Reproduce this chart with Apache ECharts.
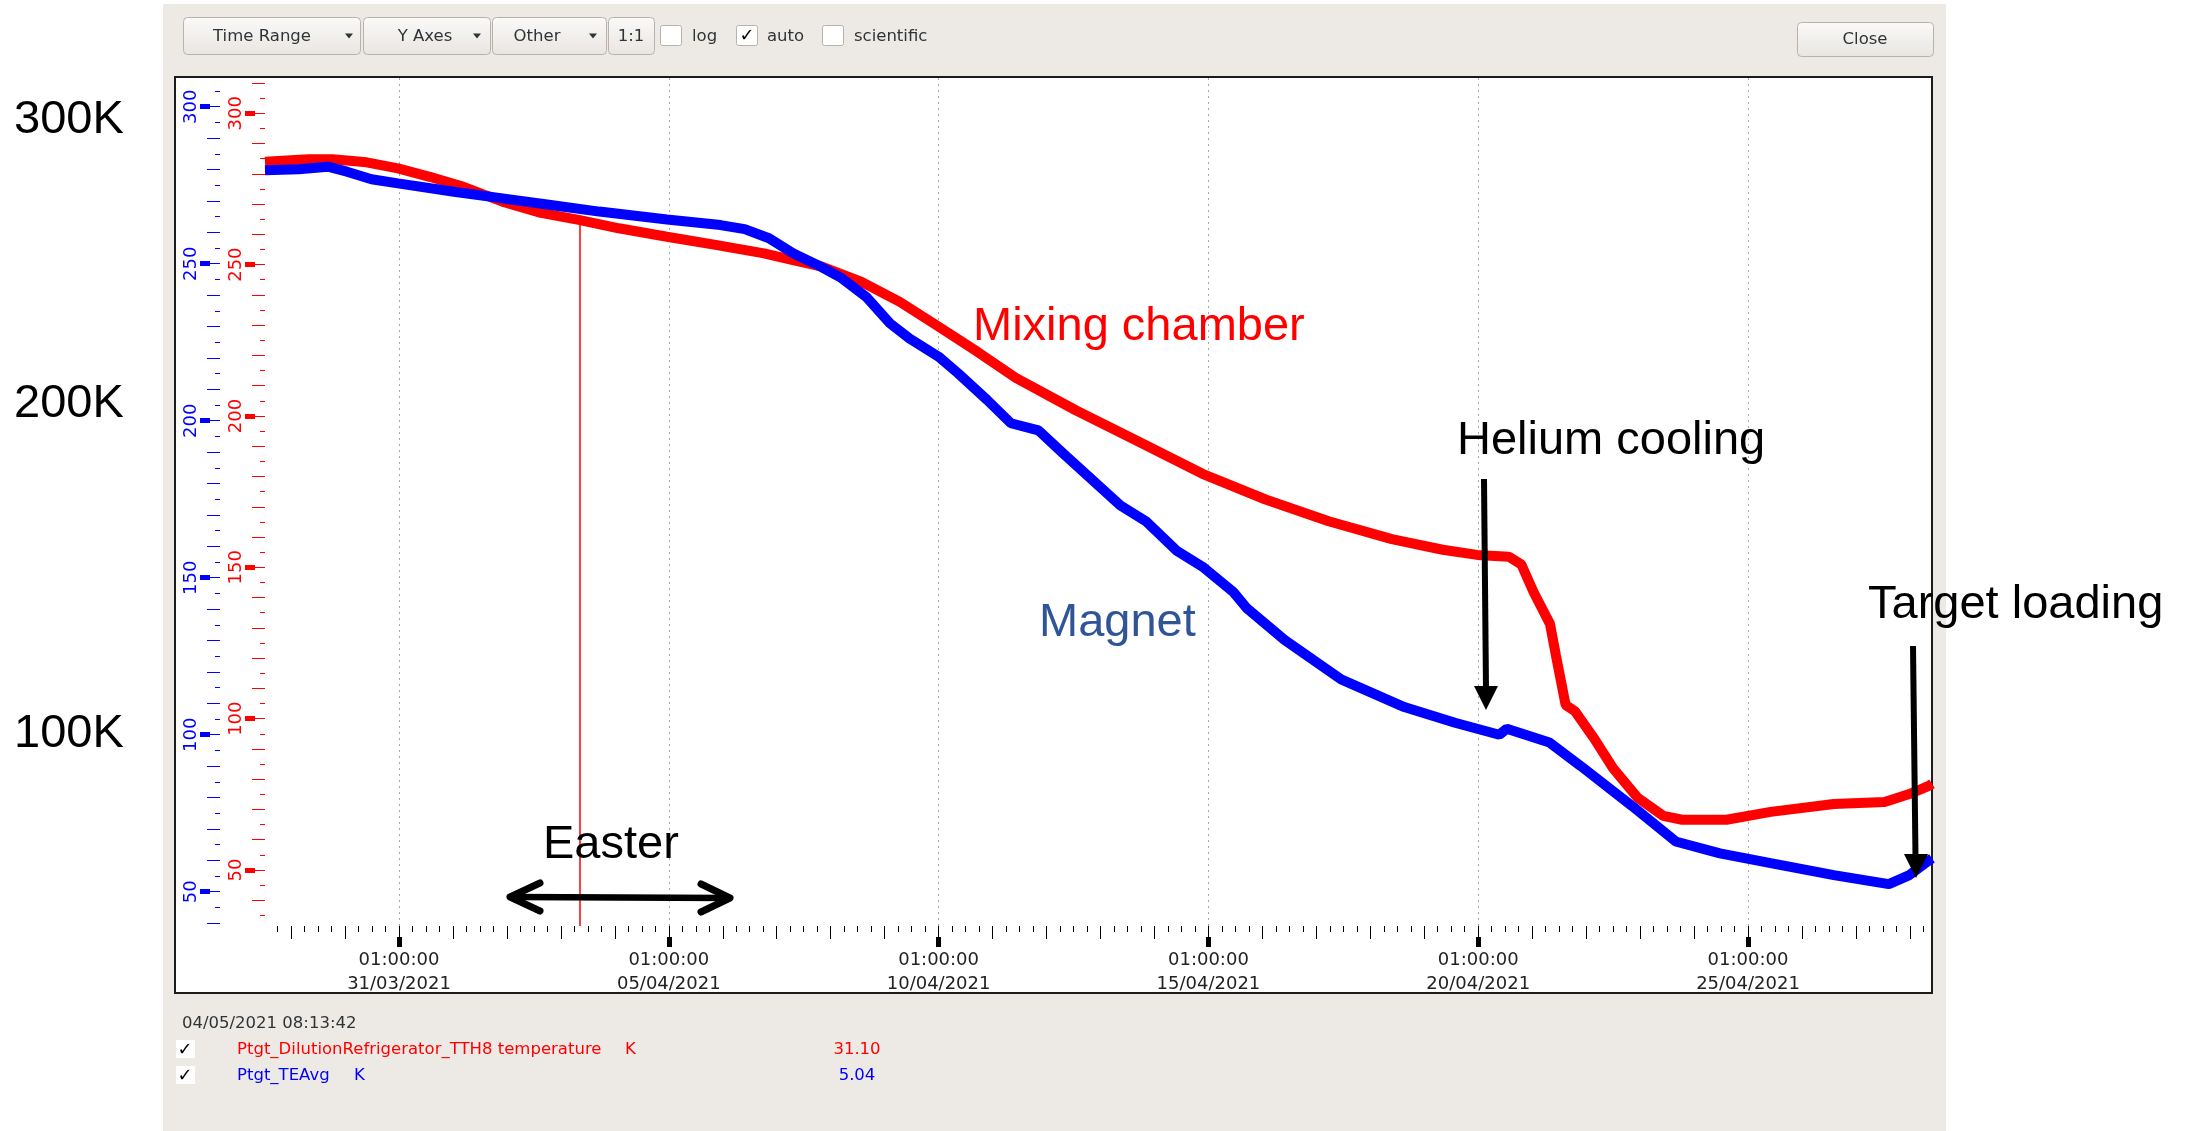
<!DOCTYPE html>
<html>
<head>
<meta charset="utf-8">
<script src="https://cdn.jsdelivr.net/npm/echarts@6/dist/echarts.min.js"></script>
<style>
html,body{margin:0;padding:0;background:#fff;}
#chart{width:2187px;height:1131px;}
</style>
</head>
<body>
<div id="chart"></div>
<script>
// ---------------- DATA ----------------
const YEAR = 2021;
// Mixing chamber  (Ptgt_DilutionRefrigerator_TTH8 temperature, K) - red axis
const redTimes = ['03-28 13:24','03-29 08:45','03-29 19:30','03-30 10:36','03-31 00:32','03-31 14:40','04-01 05:44','04-01 23:00','04-02 16:10','04-03 09:30','04-04 02:45','04-05 00:12','04-05 21:48','04-06 19:20','04-07 08:15','04-07 21:08','04-08 14:30','04-09 07:45','04-10 01:00','04-10 18:17','04-11 11:20','04-12 14:12','04-13 18:17','04-14 22:22','04-16 02:26','04-17 06:30','04-18 10:36','04-19 09:12','04-20 00:30','04-20 14:40','04-20 20:12','04-21 01:43','04-21 08:55','04-21 11:36','04-21 15:53','04-21 20:00','04-22 04:36','04-22 13:00','04-23 00:00','04-23 11:20','04-23 19:40','04-24 15:24','04-25 11:05','04-26 15:10','04-27 13:43','04-28 00:46','04-28 09:24','04-28 10:50'];
const redValues = [284.0,284.8,284.8,283.8,281.8,279.0,275.7,270.8,267.1,264.7,262.0,259.2,256.5,253.7,251.5,249.3,244.4,237.7,229.5,221.2,212.6,201.8,191.4,180.9,172.4,165.2,159.3,155.8,154.1,153.5,150.9,141.7,131.3,120.8,104.5,102.5,93.4,83.6,73.8,67.9,66.6,66.6,69.2,71.8,72.5,75.1,77.8,78.5];
// Magnet (Ptgt_TEAvg, K) - blue axis
const blueTimes = ['03-28 13:24','03-29 04:26','03-29 17:22','03-30 01:52','03-30 12:46','03-31 00:32','04-01 01:27','04-01 23:00','04-02 20:30','04-03 18:05','04-05 00:12','04-06 00:00','04-06 10:46','04-06 21:34','04-07 08:15','04-07 19:06','04-08 05:54','04-08 16:43','04-09 03:23','04-09 12:04','04-10 01:00','04-10 09:38','04-10 22:36','04-11 09:10','04-11 21:24','04-12 08:41','04-13 09:53','04-13 21:10','04-14 11:05','04-14 22:22','04-15 12:17','04-15 18:02','04-16 10:50','04-17 12:02','04-18 16:07','04-19 14:41','04-20 10:22','04-20 13:43','04-21 08:41','04-21 22:50','04-22 21:24','04-23 16:50','04-24 12:31','04-25 11:05','04-26 15:10','04-27 15:38','04-28 00:46','04-28 09:10','04-28 10:50'];
const blueValues = [279.8,280.1,280.9,279.3,276.9,275.6,272.9,270.8,268.7,266.6,264.1,262.3,261.0,258.1,253.3,249.6,245.4,239.5,231.0,226.2,220.4,215.1,206.6,199.2,196.9,189.4,173.0,168.0,158.5,153.5,145.3,140.3,130.2,117.6,108.8,103.8,100.0,101.9,97.5,89.9,77.3,66.0,62.2,59.1,55.3,52.4,55.3,59.8,60.6];

// X tick labels
const xLabelTimes = ['03-31 01:00','04-05 01:00','04-10 01:00','04-15 01:00','04-20 01:00','04-25 01:00'];
const xLabels = ['01:00:00\n31/03/2021','01:00:00\n05/04/2021','01:00:00\n10/04/2021','01:00:00\n15/04/2021','01:00:00\n20/04/2021','01:00:00\n25/04/2021'];
// Y tick labels (both axes)
const yLabelValues = [50,100,150,200,250,300];

// Cursor
const cursorTime = '04-03 09:30';
const cursorRedValue = 264.7;
const legendTime = '04/05/2021 08:13:42';
const redName = 'Ptgt_DilutionRefrigerator_TTH8 temperature';
const blueName = 'Ptgt_TEAvg';
const unitText = 'K';
const redReadout = '31.10';
const blueReadout = '5.04';

// Annotations
const sideLabels = ['300K','200K','100K'];
const annMixing = 'Mixing chamber';
const annMagnet = 'Magnet';
const annHelium = 'Helium cooling';
const annTarget = 'Target loading';
const annEaster = 'Easter';

// ---------------- helpers ----------------
function T(s){
  const [md, hm] = s.split(' ');
  const [M, D] = md.split('-').map(Number);
  const [h, m] = hm.split(':').map(Number);
  return Date.UTC(YEAR, M - 1, D, h, m);
}
const HOUR = 3600e3;
const X_MIN = T('03-28 13:24');
const X_MAX = T('04-28 10:50');
const RED_MIN = 31.50, RED_MAX = 311.98;
const BLUE_MIN = 39.08, BLUE_MAX = 309.46;

const majorX = xLabelTimes.map(T);
const dayX = [], quarterX = [];
for (let t = T('03-28 19:00'); t <= X_MAX; t += 6 * HOUR) {
  const hr = new Date(t).getUTCHours();
  if (hr === 1) { if (majorX.indexOf(t) < 0) dayX.push(t); }
  else quarterX.push(t);
}
function ySets(lo, hi){
  const short = [], long = [];
  for (let v = lo; v <= hi; v += 5) {
    if (v % 50 === 0) continue;
    if (v % 10 === 0) long.push(v); else short.push(v);
  }
  return {short, long};
}
const redTicks = ySets(35, 310);
const blueTicks = ySets(40, 305);

const redData = redTimes.map((s, i) => [T(s), redValues[i]]);
const blueData = blueTimes.map((s, i) => [T(s), blueValues[i]]);

const UI = '"DejaVu Sans", sans-serif';
const ANN = '"Liberation Sans", Arial, sans-serif';

function xAx(extra){
  return Object.assign({
    type: 'value', gridIndex: 0, position: 'bottom', min: X_MIN, max: X_MAX,
    axisLine: {show: false}, splitLine: {show: false}, axisLabel: {show: false}
  }, extra);
}
function yAx(min, max, extra){
  return Object.assign({
    type: 'value', gridIndex: 0, position: 'left', min: min, max: max,
    axisLine: {show: false}, splitLine: {show: false}, axisLabel: {show: false}
  }, extra);
}

const xAxes = [
  xAx({offset: 0,
    axisTick: {show: true, customValues: majorX, length: 11, lineStyle: {color: '#000', width: 1}},
    axisLabel: {show: true, customValues: majorX, margin: 22, fontFamily: UI, fontSize: 18, lineHeight: 24, color: '#222',
      formatter: v => xLabels[majorX.indexOf(v)]}}),
  xAx({offset: 11, axisTick: {show: true, customValues: majorX, length: 10, lineStyle: {color: '#000', width: 5}}}),
  xAx({offset: 0, axisTick: {show: true, customValues: dayX, length: 13, lineStyle: {color: '#000', width: 1}}}),
  xAx({offset: 0, axisTick: {show: true, customValues: quarterX, length: 6, lineStyle: {color: '#000', width: 1}}})
];

function axisSet(min, max, ticks, color, off){
  return [
    yAx(min, max, {offset: off,
      axisTick: {show: true, customValues: ticks.long, length: 13, lineStyle: {color: color, width: 1}},
      axisLabel: {show: true, customValues: yLabelValues, rotate: 90, margin: 29, align: 'center', verticalAlign: 'middle',
        fontFamily: UI, fontSize: 18, color: color}}),
    yAx(min, max, {offset: off, axisTick: {show: true, customValues: ticks.short, length: 5, lineStyle: {color: color, width: 1}}}),
    yAx(min, max, {offset: off, axisTick: {show: true, customValues: yLabelValues, length: 20, lineStyle: {color: color, width: 1}}}),
    yAx(min, max, {offset: off + 10, axisTick: {show: true, customValues: yLabelValues, length: 10, lineStyle: {color: color, width: 5}}})
  ];
}
const yAxes = axisSet(RED_MIN, RED_MAX, redTicks, '#ff0000', 0)
  .concat(axisSet(BLUE_MIN, BLUE_MAX, blueTicks, '#0000ff', 45));

// ---------------- graphic (panel, toolbar, legend, annotations) ----------------
const G = [];
function text(x, y, s, font, fill, align, z){
  G.push({type: 'text', z: z == null ? 50 : z, silent: true,
    style: {x: x, y: y, text: s, font: font, fill: fill, textAlign: align || 'left', textVerticalAlign: 'middle'}});
}
const btnFill = () => new echarts.graphic.LinearGradient(0, 0, 0, 1, [{offset: 0, color: '#fbfaf9'}, {offset: 1, color: '#e8e5e1'}]);
function button(x, y, w, h, label, cx, arrowX){
  G.push({type: 'rect', z: -5, silent: true, shape: {x: x + 0.5, y: y + 0.5, width: w, height: h, r: 4},
    style: {fill: btnFill(), stroke: '#b8b2ab', lineWidth: 1}});
  text(cx, y + h / 2 + 1, label, '16.5px ' + UI, '#2e3436', 'center', 10);
  if (arrowX) G.push({type: 'polygon', z: 10, silent: true,
    shape: {points: [[arrowX - 4, y + h / 2 - 2], [arrowX + 4, y + h / 2 - 2], [arrowX, y + h / 2 + 3]]}, style: {fill: '#2e3436'}});
}
function checkbox(x, y, checked){
  G.push({type: 'rect', z: -5, silent: true, shape: {x: x + 0.5, y: y + 0.5, width: 21, height: 20, r: 2},
    style: {fill: '#ffffff', stroke: '#b8b2ab', lineWidth: 1}});
  if (checked) text(x + 11, y + 11, '✓', 'bold 18px ' + UI, '#000', 'center', 10);
}

// panel and plot box
G.push({type: 'rect', z: -20, silent: true, shape: {x: 163, y: 4, width: 1783, height: 1127}, style: {fill: '#edeae6'}});
G.push({type: 'rect', z: -15, silent: true, shape: {x: 175, y: 77, width: 1757, height: 916}, style: {fill: '#ffffff', stroke: '#1c1c1c', lineWidth: 2}});

// toolbar
button(183, 17, 177, 37, 'Time Range', 262, 349);
button(363, 17, 127, 37, 'Y Axes', 425, 477);
button(492, 17, 114, 37, 'Other', 537, 593);
button(608, 17, 46, 37, '1:1', 631, null);
checkbox(660, 25, false); text(692, 36.5, 'log', '16.5px ' + UI, '#2e3436');
checkbox(736, 25, true);  text(767, 36.5, 'auto', '16.5px ' + UI, '#2e3436');
checkbox(822, 25, false); text(854, 36.5, 'scientific', '16.5px ' + UI, '#2e3436');
button(1797, 22, 136, 34, 'Close', 1865, null);

// legend / readout
text(182, 1024, legendTime, '16.5px ' + UI, '#2e3436');
[1049, 1075].forEach(yy => {
  G.push({type: 'rect', z: -5, silent: true, shape: {x: 176, y: yy - 9, width: 19, height: 18}, style: {fill: '#ffffff'}});
  text(185, yy + 1, '✓', 'bold 18px ' + UI, '#000', 'center');
});
text(237, 1050, redName, '16.5px ' + UI, '#ff0000');
text(625, 1050, unitText, '16.5px ' + UI, '#ff0000');
text(857, 1050, redReadout, '16.5px ' + UI, '#ff0000', 'center');
text(237, 1076, blueName, '16.5px ' + UI, '#0000ff');
text(354, 1076, unitText, '16.5px ' + UI, '#0000ff');
text(857, 1076, blueReadout, '16.5px ' + UI, '#0000ff', 'center');

// annotations
const annFont = '47px ' + ANN;
text(14, 120, sideLabels[0], annFont, '#000');
text(14, 404, sideLabels[1], annFont, '#000');
text(14, 734, sideLabels[2], annFont, '#000');
text(973, 327, annMixing, annFont, '#ff0000', 'left', 100);
text(1039, 623, annMagnet, annFont, '#2f5597', 'left', 100);
text(1457, 441, annHelium, annFont, '#000', 'left', 100);
text(1868, 605, annTarget, annFont, '#000', 'left', 100);
text(543, 845, annEaster, annFont, '#000', 'left', 100);

// arrows
G.push({type: 'line', z: 100, silent: true, shape: {x1: 512, y1: 897, x2: 728, y2: 898}, style: {stroke: '#000', lineWidth: 6.5}});
G.push({type: 'polyline', z: 100, silent: true, shape: {points: [[540, 883], [510, 897], [540, 911]]}, style: {stroke: '#000', lineWidth: 7, lineCap: 'round', lineJoin: 'round', fill: null}});
G.push({type: 'polyline', z: 100, silent: true, shape: {points: [[701, 884], [730, 898], [701, 912]]}, style: {stroke: '#000', lineWidth: 7, lineCap: 'round', lineJoin: 'round', fill: null}});
G.push({type: 'line', z: 100, silent: true, shape: {x1: 1484, y1: 479, x2: 1486, y2: 690}, style: {stroke: '#000', lineWidth: 6}});
G.push({type: 'polygon', z: 100, silent: true, shape: {points: [[1474, 686], [1498, 686], [1486, 710]]}, style: {fill: '#000'}});
G.push({type: 'line', z: 100, silent: true, shape: {x1: 1913, y1: 646, x2: 1915.5, y2: 857}, style: {stroke: '#000', lineWidth: 6}});
G.push({type: 'polygon', z: 100, silent: true, shape: {points: [[1904, 854], [1928, 854], [1916, 878]]}, style: {fill: '#000'}});

// ---------------- chart ----------------
const chart = echarts.init(document.getElementById('chart'), null, {renderer: 'canvas'});
chart.setOption({
  animation: false,
  backgroundColor: '#ffffff',
  grid: {left: 265, right: 255, top: 77, height: 849, containLabel: false},
  xAxis: xAxes,
  yAxis: yAxes,
  series: [
    {type: 'line', name: 'Mixing chamber', data: redData, xAxisIndex: 0, yAxisIndex: 0, z: 2,
      showSymbol: false, symbol: 'none', lineStyle: {color: '#ff0000', width: 10}, itemStyle: {color: '#ff0000'},
      markLine: {silent: true, z: 1, symbol: ['none', 'none'], label: {show: false}, animation: false,
        lineStyle: {type: [2, 4], color: '#a8a8a8', width: 1},
        data: majorX.map(v => ({xAxis: v})).concat([[
          {coord: [T(cursorTime), cursorRedValue], lineStyle: {type: 'solid', color: '#ff0000', width: 1.5}},
          {coord: [T(cursorTime), RED_MIN]}
        ]])}},
    {type: 'line', name: 'Magnet', data: blueData, xAxisIndex: 0, yAxisIndex: 4, z: 3,
      showSymbol: false, symbol: 'none', lineStyle: {color: '#0000ff', width: 10}, itemStyle: {color: '#0000ff'}}
  ],
  graphic: {elements: G}
});
</script>
</body>
</html>
